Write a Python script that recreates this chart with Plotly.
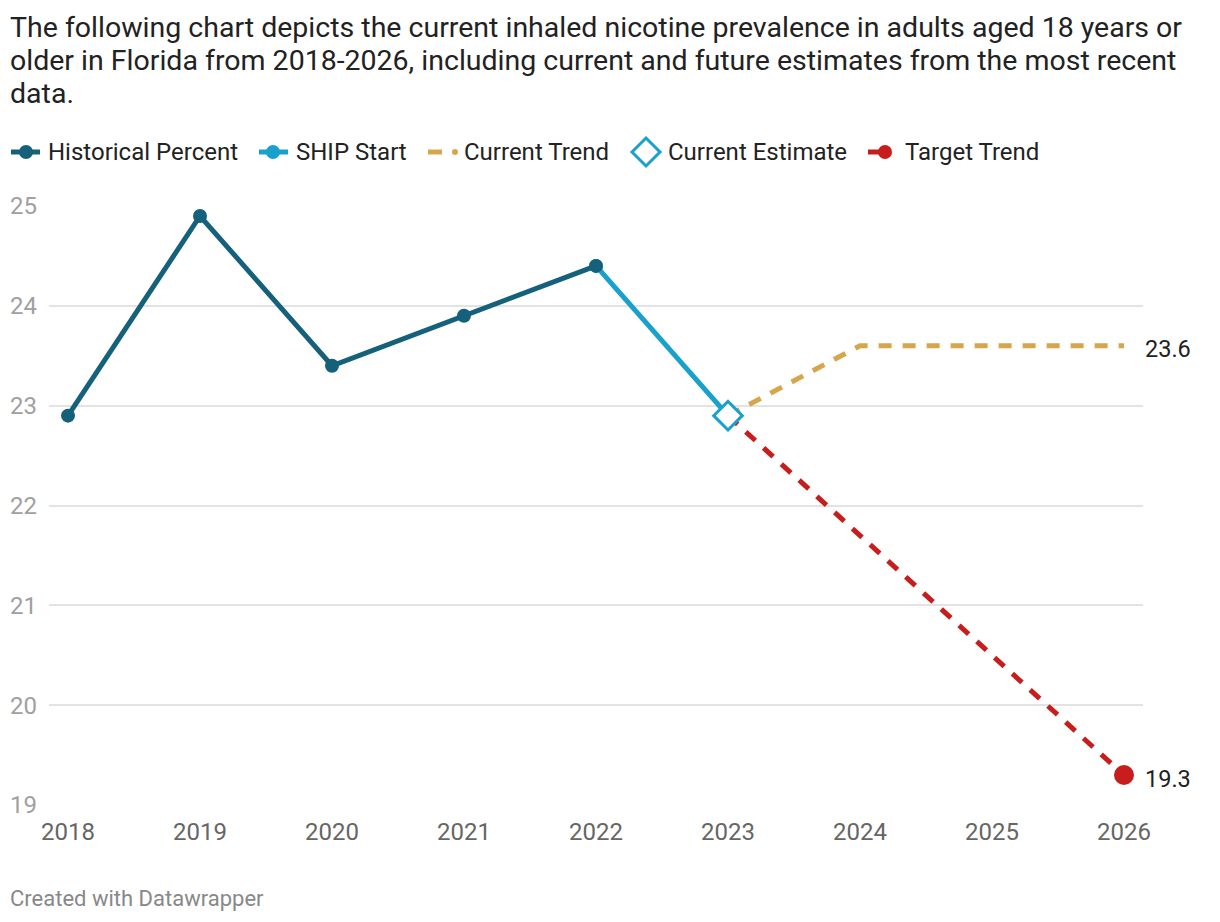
import plotly.graph_objects as go

# ---- data ----
hist_years = [2018, 2019, 2020, 2021, 2022]
hist_values = [22.9, 24.9, 23.4, 23.9, 24.4]
ship_years = [2022, 2023]
ship_values = [24.4, 22.9]
est_years = [2023]
est_values = [22.9]
cur_years = [2023, 2024, 2025, 2026]
cur_values = [22.9, 23.6, 23.6, 23.6]
tgt_years = [2023, 2026]
tgt_values = [22.9, 19.3]
y_ticks = [19, 20, 21, 22, 23, 24, 25]
x_ticks = [2018, 2019, 2020, 2021, 2022, 2023, 2024, 2025, 2026]
legend_names = ["Historical Percent", "SHIP Start", "Current Trend", "Current Estimate", "Target Trend"]
title_lines = [
    "The following chart depicts the current inhaled nicotine prevalence in adults aged 18 years or",
    "older in Florida from 2018-2026, including current and future estimates from the most recent",
    "data.",
]

C_HIST = "#15607a"
C_SHIP = "#18a1cd"
C_CUR = "#d5a64c"
C_TGT = "#c71e1d"
FONT = "Roboto"

OFF = 8  # page body margin
W, H = 1220 - OFF, 922 - OFF
L, R = 49 - OFF, 77
T = 206 - OFF
B = H - (805 - OFF)
PW, PH = W - L - R, H - T - B


def px(x):
    return (x - OFF - L) / PW


def py(y):
    return (H - B - (y - OFF)) / PH


fig = go.Figure()

fig.add_trace(go.Scatter(x=cur_years, y=cur_values, mode="lines",
                         line=dict(color=C_CUR, width=5, dash="13px,11px"),
                         showlegend=False, hoverinfo="skip", cliponaxis=False))
fig.add_trace(go.Scatter(x=tgt_years, y=tgt_values, mode="lines",
                         line=dict(color=C_TGT, width=5, dash="13px,11px"),
                         showlegend=False, hoverinfo="skip", cliponaxis=False))
fig.add_trace(go.Scatter(x=tgt_years[-1:], y=tgt_values[-1:], mode="markers",
                         marker=dict(color=C_TGT, size=20),
                         showlegend=False, cliponaxis=False))
fig.add_trace(go.Scatter(x=ship_years, y=ship_values, mode="lines",
                         line=dict(color=C_SHIP, width=5),
                         showlegend=False, cliponaxis=False))
fig.add_trace(go.Scatter(x=ship_years[:1], y=ship_values[:1], mode="markers",
                         marker=dict(color=C_SHIP, size=14),
                         showlegend=False, cliponaxis=False))
fig.add_trace(go.Scatter(x=hist_years, y=hist_values, mode="lines+markers",
                         line=dict(color=C_HIST, width=5),
                         marker=dict(color=C_HIST, size=14),
                         showlegend=False, cliponaxis=False))
fig.add_trace(go.Scatter(x=est_years, y=est_values, mode="markers",
                         marker=dict(symbol="diamond", size=22, color="white",
                                     line=dict(color=C_SHIP, width=3)),
                         showlegend=False, cliponaxis=False))

# ---- manual legend (y = 152 px) ----
LY = 152
shapes = []


def hline(x0, x1, color, width=5):
    shapes.append(dict(type="line", xref="paper", yref="paper", x0=px(x0), x1=px(x1),
                       y0=py(LY), y1=py(LY), line=dict(color=color, width=width)))


def dot(cx, d, color):
    shapes.append(dict(type="circle", xref="paper", yref="paper",
                       x0=px(cx - d / 2), x1=px(cx + d / 2), y0=py(LY + d / 2), y1=py(LY - d / 2),
                       fillcolor=color, line=dict(width=0)))


hline(11, 40, C_HIST); dot(26, 14, C_HIST)
hline(259, 288, C_SHIP); dot(273, 14, C_SHIP)
hline(428, 442, C_CUR); dot(455, 6, C_CUR)
dcx, dr = 646, 14
shapes.append(dict(type="path", xref="paper", yref="paper",
                   path=f"M {px(dcx - dr)} {py(LY)} L {px(dcx)} {py(LY - dr)} L {px(dcx + dr)} {py(LY)} "
                        f"L {px(dcx)} {py(LY + dr)} Z",
                   fillcolor="white", line=dict(color=C_SHIP, width=3)))
hline(868, 882, C_TGT); dot(885, 14, C_TGT)

legend_x = [48, 296, 464, 668, 905]
for name, lx in zip(legend_names, legend_x):
    fig.add_annotation(xref="paper", yref="paper", x=px(lx), y=py(LY), xanchor="left", yanchor="middle",
                       showarrow=False, xshift=-2, text=name,
                       font=dict(family=FONT, size=24, color="#222"))

# end labels
fig.add_annotation(x=cur_years[-1], y=cur_values[-1], text=f"{cur_values[-1]:.1f}",
                   showarrow=False, xanchor="left", xshift=19, yshift=-3,
                   font=dict(family=FONT, size=23.5, color="#222"))
fig.add_annotation(x=tgt_years[-1], y=tgt_values[-1], text=f"{tgt_values[-1]:.1f}",
                   showarrow=False, xanchor="left", xshift=19, yshift=-4,
                   font=dict(family=FONT, size=23.5, color="#222"))

# title lines and footer
for i, line in enumerate(title_lines):
    fig.add_annotation(xref="paper", yref="paper", x=px(10), y=py(27 + 33 * i),
                       xanchor="left", yanchor="middle", align="left", showarrow=False,
                       xshift=-2, text=line, font=dict(family=FONT, size=28.5, color="#222"))
fig.add_annotation(xref="paper", yref="paper", x=px(10), y=py(898),
                   xanchor="left", yanchor="middle", align="left", showarrow=False,
                   xshift=-2, text="Created with Datawrapper",
                   font=dict(family=FONT, size=22, color="#888"))

fig.update_layout(
    width=W, height=H,
    margin=dict(l=L, r=R, t=T, b=B),
    paper_bgcolor="white", plot_bgcolor="white",
    font=dict(family=FONT, color="#222"),
    showlegend=False,
    shapes=shapes,
    xaxis=dict(range=[2017.856, 2026.144], tickvals=x_ticks, showgrid=False, zeroline=False,
               showline=False, ticks="", tickfont=dict(family=FONT, size=24, color="#666"),
               ticklabelstandoff=10, automargin=False, fixedrange=True),
    yaxis=dict(range=[19, 25], tickvals=y_ticks, showgrid=True, gridcolor="#e3e3e3", gridwidth=2,
               zeroline=False, showline=False, ticks="",
               tickfont=dict(family=FONT, size=24, color="#a0a0a0"),
               ticklabelstandoff=11, automargin=False, fixedrange=True),
)

fig.write_html("out.html")
